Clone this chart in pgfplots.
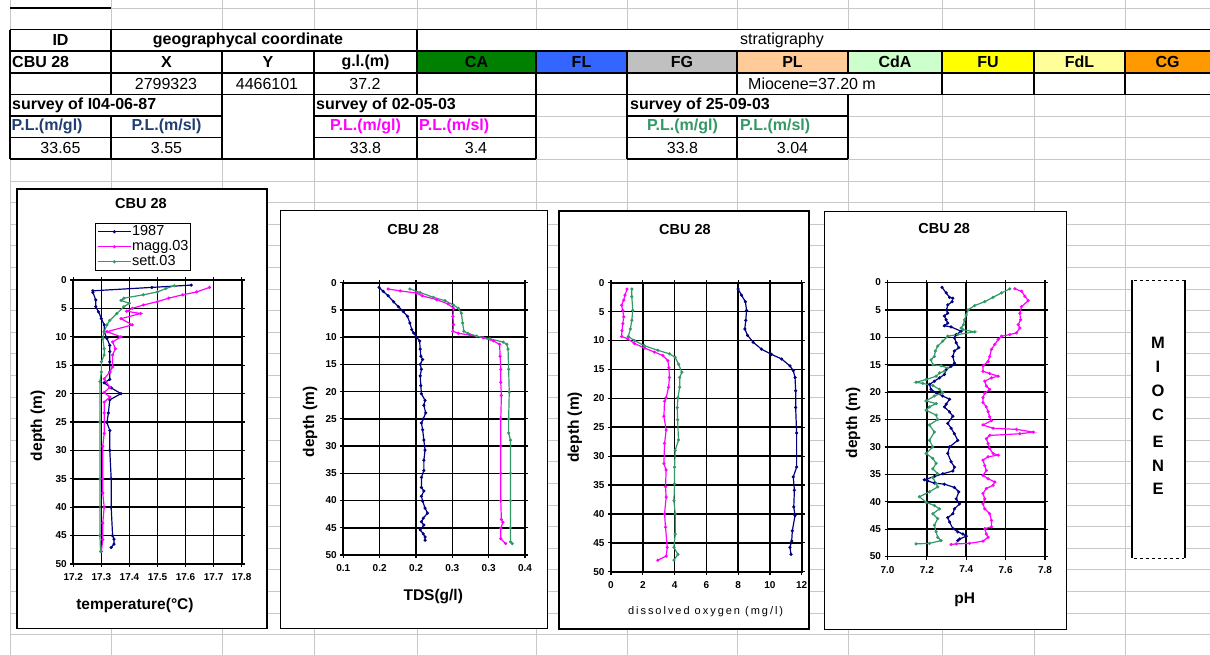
\documentclass[border=0pt]{standalone}
\usepackage{pgfplots}
\pgfplotsset{compat=1.18}
\usepackage{fontspec}
\setmainfont{Liberation Sans}
\newfontfamily\spacedfont[LetterSpace=18]{Liberation Sans}

\definecolor{gridgray}{HTML}{C8C8C8}
\definecolor{navy}{HTML}{000080}
\definecolor{mag}{HTML}{FF00FF}
\definecolor{sea}{HTML}{339966}
\definecolor{plblue}{HTML}{1F3F73}
\definecolor{cCA}{HTML}{008000}
\definecolor{cFL}{HTML}{3366FF}
\definecolor{cFG}{HTML}{C0C0C0}
\definecolor{cPL}{HTML}{FFCC99}
\definecolor{cCdA}{HTML}{CCFFCC}
\definecolor{cFU}{HTML}{FFFF00}
\definecolor{cFdL}{HTML}{FFFF99}
\definecolor{cCG}{HTML}{FF9900}

\newcommand\tf{\fontsize{16}{16}\selectfont}

\pgfplotsset{
  cbu/.style={
    scale only axis,
    y dir=reverse, ymin=0, ymax=50, ytick={0,5,...,50},
    grid=major,
    major grid style={black,line width=1.6pt},
    axis line style={black,line width=1.8pt},
    tick align=outside, major tick length=3pt,
    tick style={black,line width=1.2pt},
    /pgf/number format/assume math mode=true,
    ticklabel style={font=\fontsize{10}{10}\selectfont\bfseries},
    xticklabel style={yshift=-3pt},
    title={CBU 28},
    title style={font=\fontsize{14.5}{15}\selectfont\bfseries},
    ylabel={depth (m)},
    label style={font=\fontsize{15.5}{16}\selectfont\bfseries},
    every axis plot/.append style={line width=1.2pt, mark=*, mark size=0.9pt},
  },
}

\begin{document}
\begin{tikzpicture}
\begin{scope}[x=1pt,y=-1pt]
\path[use as bounding box] (0,0) rectangle (1210,655);
\fill[white] (0,0) rectangle (1210,655);
% sheet grid
\foreach \k in {0,...,30} {\draw[gridgray] (10,{8+21.6*\k}) -- (1210,{8+21.6*\k});}
\foreach \c in {10,111,222,314,417,536,627,737,848,942,1034,1125} {\draw[gridgray] (\c,0) -- (\c,655);}
% merged cells
\fill[white] (111,29.6) rectangle (417,51.2);
\fill[white] (417,29.6) rectangle (1210,51.2);
\fill[white] (737,72.8) rectangle (942,94.4);
\fill[white] (10,94.4) rectangle (222,116);
\fill[white] (222,94.4) rectangle (314,159.2);
\fill[white] (314,94.4) rectangle (536,116);
\fill[white] (627,94.4) rectangle (848,116);
% stratigraphy colours
\fill[cCA] (417,51.2) rectangle (536,72.8);
\fill[cFL] (536,51.2) rectangle (627,72.8);
\fill[cFG] (627,51.2) rectangle (737,72.8);
\fill[cPL] (737,51.2) rectangle (848,72.8);
\fill[cCdA] (848,51.2) rectangle (942,72.8);
\fill[cFU] (942,51.2) rectangle (1034,72.8);
\fill[cFdL] (1034,51.2) rectangle (1125,72.8);
\fill[cCG] (1125,51.2) rectangle (1210,72.8);
% borders
\begin{scope}[line width=1.5pt, black]
\draw (10,8) -- (111,8);
\draw (10,29.6) -- (1210,29.6);
\draw (10,51.2) -- (1210,51.2);
\draw (10,72.8) -- (1210,72.8);
\draw (10,94.4) -- (1210,94.4);
\draw (10,116) -- (222,116); \draw (314,116) -- (536,116); \draw (627,116) -- (848,116);
\draw (10,137.6) -- (222,137.6); \draw (314,137.6) -- (536,137.6); \draw (627,137.6) -- (848,137.6);
\draw (10,159.2) -- (536,159.2); \draw (627,159.2) -- (848,159.2);
\draw (10,29.6) -- (10,159.2);
\draw (111,29.6) -- (111,94.4); \draw (111,116) -- (111,159.2);
\draw (222,51.2) -- (222,159.2);
\draw (314,51.2) -- (314,159.2);
\draw (417,29.6) -- (417,94.4); \draw (417,116) -- (417,159.2);
\draw (536,51.2) -- (536,159.2);
\draw (627,51.2) -- (627,159.2);
\draw (737,51.2) -- (737,94.4); \draw (737,116) -- (737,159.2);
\draw (848,51.2) -- (848,72.8); \draw (848,94.4) -- (848,159.2);
\draw (942,51.2) -- (942,94.4);
\draw (1034,51.2) -- (1034,94.4);
\draw (1125,51.2) -- (1125,94.4);
\end{scope}
% table text
\begin{scope}[every node/.style={inner sep=0pt, font=\tf}]
\node[font=\tf\bfseries] at (60.5,40.4) {ID};
\node[font=\tf\bfseries] at (248,40.4) {geographycal coordinate};
\node[anchor=west] at (740,40.4) {stratigraphy};
\node[font=\tf\bfseries, anchor=west] at (12,62) {CBU 28};
\node[font=\tf\bfseries] at (166.5,62) {X};
\node[font=\tf\bfseries] at (268,62) {Y};
\node[font=\tf\bfseries] at (365.5,62) {g.l.(m)};
\node[font=\tf\bfseries] at (476.5,62) {CA};
\node[font=\tf\bfseries] at (581.5,62) {FL};
\node[font=\tf\bfseries] at (682,62) {FG};
\node[font=\tf\bfseries] at (792.5,62) {PL};
\node[font=\tf\bfseries] at (895,62) {CdA};
\node[font=\tf\bfseries] at (988,62) {FU};
\node[font=\tf\bfseries] at (1079.5,62) {FdL};
\node[font=\tf\bfseries] at (1167.5,62) {CG};
\node at (166,83.6) {2799323};
\node at (267,83.6) {4466101};
\node at (365,83.6) {37.2};
\node[anchor=west] at (748,83.6) {Miocene=37.20 m};
\node[font=\tf\bfseries, anchor=west] at (12,105.2) {survey of I04-06-87};
\node[font=\tf\bfseries, anchor=west] at (316,105.2) {survey of 02-05-03};
\node[font=\tf\bfseries, anchor=west] at (630,105.2) {survey of 25-09-03};
\node[font=\tf\bfseries, text=plblue, anchor=west] at (11.5,126.8) {P.L.(m/gl)};
\node[font=\tf\bfseries, text=plblue] at (166.5,126.8) {P.L.(m/sl)};
\node[font=\tf\bfseries, text=mag] at (365.5,126.8) {P.L.(m/gl)};
\node[font=\tf\bfseries, text=mag, anchor=west] at (419,126.8) {P.L.(m/sl)};
\node[font=\tf\bfseries, text=sea] at (682.5,126.8) {P.L.(m/gl)};
\node[font=\tf\bfseries, text=sea, anchor=west] at (740,126.8) {P.L.(m/sl)};
\node at (60.5,148.4) {33.65};
\node at (166.5,148.4) {3.55};
\node at (365.5,148.4) {33.8};
\node at (476,148.4) {3.4};
\node at (682.5,148.4) {33.8};
\node at (792.5,148.4) {3.04};
\end{scope}
% chart frames
\draw[fill=white, line width=1.2pt] (17,189) rectangle (267,628.5);
\draw[fill=white, line width=1.2pt] (280.5,210.5) rectangle (547.7,628.5);
\draw[fill=white, line width=1.2pt] (559,211) rectangle (809,629);
\draw[fill=white, line width=1.2pt] (824.5,211.5) rectangle (1066.5,629.5);
% Miocene column
\fill[white] (1132,280) rectangle (1185,558);
\draw[line width=1.5pt] (1132,280) -- (1132,558);
\draw[line width=1.5pt] (1185,280) -- (1185,558);
\draw[line width=1pt, dash pattern=on 2.5pt off 3.5pt] (1134,280) -- (1184,280);
\draw[line width=1pt, dash pattern=on 2.5pt off 3.5pt] (1134,558) -- (1184,558);
\foreach \l/\yy in {M/342.7,I/366.7,O/390.5,C/414.5,E/441.5,N/466,E/489}
  {\node[font=\fontsize{16.5}{17}\selectfont\bfseries, inner sep=0pt] at (1158,\yy) {\l};}
\end{scope}

% temperature
\begin{axis}[cbu,
  at={(73.3pt,-564pt)}, anchor=south west, width=168.4pt, height=284pt,
  xmin=17.2, xmax=17.8, xtick={17.2,17.3,17.4,17.5,17.6,17.7,17.8},
  xticklabels={17.2,17.3,17.4,17.5,17.6,17.7,17.8},
  xlabel={temperature(°C)},
  title style={at={(axis description cs:0.402,1)}, anchor=center, yshift=70pt},
  xlabel style={at={(axis description cs:0.366,0)}, anchor=center, yshift=-41pt},
  ylabel style={at={(axis description cs:-0.21,0.487)}, anchor=center},
  legend style={at={(axis description cs:0.415,1)}, anchor=south, yshift=9pt,
    draw=black, line width=1.2pt, font=\fontsize{14.5}{14.5}\selectfont,
    inner sep=1.5pt, row sep=0.8pt, cells={anchor=west},
    nodes={inner sep=0.6pt, text height=10pt, text depth=3pt}},
  legend image code/.code={\draw[mark repeat=2,mark phase=2,#1] plot coordinates {(0pt,0pt) (16.5pt,0pt) (33pt,0pt)};},
]
\addplot[navy] coordinates {(17.62,0.9) (17.48,1.3) (17.27,1.9) (17.27,2.2) (17.28,3.5) (17.28,4.7) (17.29,5.6) (17.30,6.8) (17.31,7.9) (17.31,9.1) (17.32,10.3) (17.33,11.5) (17.33,12.6) (17.33,14.4) (17.33,16.2) (17.33,17.5) (17.31,18.1) (17.335,19.0) (17.37,20.0) (17.33,21.1) (17.325,23.4) (17.32,25.1) (17.33,26.5) (17.33,30) (17.335,35) (17.335,40) (17.34,45) (17.345,45.6) (17.345,46.5) (17.335,47.1)};
\addplot[mag] coordinates {(17.685,1.3) (17.64,2.1) (17.59,2.6) (17.54,3.2) (17.50,3.8) (17.45,4.4) (17.41,5.0) (17.39,5.5) (17.44,5.9) (17.37,6.8) (17.41,7.9) (17.32,9.1) (17.37,10.0) (17.34,10.9) (17.35,12.1) (17.34,13.2) (17.34,15.3) (17.33,16.2) (17.31,17.4) (17.33,18.9) (17.31,19.8) (17.33,20.6) (17.31,21.5) (17.31,23.4) (17.31,27) (17.305,29.3) (17.305,35) (17.305,37.5) (17.31,40) (17.305,42.8) (17.305,45.7) (17.30,47.8)};
\addplot[sea] coordinates {(17.56,1.0) (17.53,1.5) (17.50,2.1) (17.45,2.6) (17.38,3.2) (17.37,3.6) (17.40,4.1) (17.38,4.7) (17.355,5.9) (17.33,7.1) (17.32,7.9) (17.31,9.1) (17.305,10.3) (17.31,12.1) (17.31,13.2) (17.30,14.4) (17.30,16.2) (17.295,17.9) (17.295,25) (17.295,35) (17.295,45) (17.297,47.8)};
\legend{1987,magg.03,sett.03}
\end{axis}

% TDS
\begin{axis}[cbu,
  at={(343.3pt,-555pt)}, anchor=south west, width=181.7pt, height=272.3pt,
  xmin=0.1, xmax=0.4, xtick={0.1,0.16,0.22,0.28,0.34,0.4},
  xticklabels={0.1,0.2,0.2,0.3,0.3,0.4},
  xlabel={TDS(g/l)},
  title style={at={(axis description cs:0.384,1)}, anchor=center, yshift=47.7pt},
  xlabel style={at={(axis description cs:0.495,0)}, anchor=center, yshift=-41.7pt},
  ylabel style={at={(axis description cs:-0.183,0.489)}, anchor=center},
]
\addplot[navy] coordinates {(0.159,0.85) (0.166,1.6) (0.174,2.4) (0.183,3.5) (0.191,4.4) (0.199,5.3) (0.206,6.2) (0.210,7.4) (0.213,8.6) (0.216,9.2) (0.221,10.0) (0.226,10.7) (0.227,12.2) (0.228,13.5) (0.231,14.1) (0.227,15.0) (0.229,15.9) (0.227,17.1) (0.228,18.9) (0.229,20.4) (0.235,21.6) (0.233,22.5) (0.236,23.9) (0.232,25.0) (0.229,25.75) (0.231,27.0) (0.233,28.9) (0.235,30.75) (0.233,32.6) (0.233,34.5) (0.229,35.75) (0.229,37.6) (0.233,38.25) (0.229,39.2) (0.231,40.1) (0.235,41.4) (0.239,42.3) (0.232,43.25) (0.229,43.9) (0.233,44.5) (0.227,45.4) (0.232,46.1) (0.235,46.7) (0.235,47.3)};
\addplot[mag] coordinates {(0.174,1.15) (0.194,1.5) (0.221,1.9) (0.230,2.4) (0.254,3.1) (0.273,3.9) (0.282,4.7) (0.281,6.2) (0.282,7.7) (0.281,8.9) (0.290,9.3) (0.309,9.6) (0.331,10.1) (0.348,10.7) (0.358,11.3) (0.359,13.5) (0.360,15.9) (0.360,18.3) (0.361,20.7) (0.360,25) (0.360,30) (0.360,35) (0.360,40) (0.361,43.5) (0.3635,44) (0.360,45.1) (0.360,47) (0.368,47.9)};
\addplot[sea] coordinates {(0.210,1.15) (0.227,1.8) (0.249,2.7) (0.268,3.3) (0.282,4.1) (0.290,4.7) (0.295,5.6) (0.297,7.4) (0.299,8.9) (0.306,9.3) (0.320,9.8) (0.342,10.3) (0.364,10.9) (0.370,11.3) (0.372,12.2) (0.373,15.9) (0.374,20.1) (0.373,25) (0.373,27.6) (0.376,28.9) (0.376,35) (0.376,40) (0.376,45) (0.376,47.6) (0.379,47.9)};
\end{axis}

% dissolved oxygen
\begin{axis}[cbu,
  at={(611pt,-571.7pt)}, anchor=south west, width=190.7pt, height=289pt,
  xmin=0, xmax=12, xtick={0,2,...,12},
  xlabel={\spacedfont\fontsize{11}{11}\selectfont\mdseries dissolved oxygen (mg/l)},
  title style={at={(axis description cs:0.388,1)}, anchor=center, yshift=47.7pt},
  xlabel style={at={(axis description cs:0.496,0)}, anchor=center, yshift=-39.5pt},
  ylabel style={at={(axis description cs:-0.189,0.5)}, anchor=center},
]
\addplot[navy] coordinates {(8.0,1.1) (8.21,2.15) (8.46,3.3) (8.53,4.8) (8.48,6.5) (8.42,8.0) (8.59,9.1) (8.95,10.3) (9.47,11.5) (10.1,12.4) (10.74,13.2) (11.26,14.4) (11.47,15.2) (11.58,16.4) (11.62,18.7) (11.62,21.6) (11.68,26) (11.68,31.9) (11.47,33.6) (11.54,35.9) (11.5,38.8) (11.58,40.3) (11.41,42.9) (11.37,44.7) (11.26,45.8) (11.33,47)};
\addplot[mag] coordinates {(1.01,1.1) (0.88,2.15) (0.80,3.0) (0.67,3.9) (0.74,4.8) (0.80,5.9) (0.74,7.1) (0.69,8.3) (0.67,9.3) (1.05,9.7) (1.47,10.5) (2.1,11.3) (2.74,12.0) (3.26,12.6) (3.58,13.5) (3.64,14.7) (3.68,16.4) (3.62,18.1) (3.47,19.9) (3.37,20.5) (3.33,23.1) (3.47,25.5) (3.37,27.8) (3.33,31.3) (3.47,32.4) (3.43,35.3) (3.47,37.1) (3.37,40) (3.43,42.3) (3.54,45.8) (3.47,47.3) (2.95,48.0)};
\addplot[sea] coordinates {(1.31,1.1) (1.31,2.4) (1.37,4.8) (1.31,6.5) (1.22,8.0) (1.09,9.3) (1.47,10.0) (2.1,10.9) (2.95,11.7) (3.68,12.3) (4.04,12.9) (4.25,14.1) (4.46,15.5) (4.32,16.4) (4.32,18.1) (4.21,19.9) (4.17,21.6) (4.19,23.7) (4.25,27.2) (4.04,29) (4.0,31.9) (4.0,34.8) (3.96,37.7) (4.04,40) (4.04,43.5) (3.96,45.8) (4.21,47) (3.96,48)};
\end{axis}

% pH
\begin{axis}[cbu,
  at={(887.5pt,-556.5pt)}, anchor=south west, width=157.5pt, height=274pt,
  xmin=7.0, xmax=7.8, xtick={7.0,7.2,7.4,7.6,7.8},
  xticklabels={7.0,7.2,7.4,7.6,7.8},
  xlabel={pH},
  title style={at={(axis description cs:0.36,1)}, anchor=center, yshift=47.7pt},
  xlabel style={at={(axis description cs:0.49,0)}, anchor=center, yshift=-43pt},
  ylabel style={at={(axis description cs:-0.219,0.488)}, anchor=center},
]
\addplot[navy] coordinates {(7.277,0.9) (7.298,1.9) (7.315,2.7) (7.332,2.85) (7.328,3.5) (7.306,4.1) (7.300,5.0) (7.306,5.6) (7.289,6.1) (7.298,6.8) (7.306,7.4) (7.289,7.9) (7.323,8.1) (7.374,8.9) (7.349,9.5) (7.340,10.1) (7.349,11.0) (7.362,11.9) (7.340,12.5) (7.332,13.5) (7.340,14.7) (7.323,15.3) (7.298,15.9) (7.289,16.8) (7.264,17.4) (7.238,18.0) (7.213,18.6) (7.221,19.5) (7.247,20.1) (7.280,20.7) (7.315,21.3) (7.298,22.2) (7.289,22.7) (7.315,23.6) (7.332,24.4) (7.306,25.7) (7.323,26.6) (7.340,27.6) (7.357,28.8) (7.315,30.0) (7.306,31.2) (7.323,32.7) (7.340,33.7) (7.332,34.4) (7.281,34.9) (7.238,35.4) (7.187,36.0) (7.204,36.2) (7.238,36.6) (7.289,36.8) (7.340,37.4) (7.362,38.2) (7.349,39.5) (7.366,40.4) (7.340,41.3) (7.332,42.2) (7.306,42.9) (7.315,43.7) (7.332,44.9) (7.357,45.5) (7.383,45.9) (7.400,46.3) (7.366,46.8) (7.357,47.1)};
\addplot[mag] coordinates {(7.647,1.15) (7.681,1.6) (7.698,2.5) (7.715,3.3) (7.681,4.4) (7.672,5.6) (7.676,6.8) (7.664,7.7) (7.672,8.3) (7.655,9.2) (7.621,9.5) (7.579,9.8) (7.562,10.4) (7.545,11.3) (7.528,12.2) (7.519,13.5) (7.511,14.4) (7.485,15.2) (7.485,16.2) (7.519,16.6) (7.562,17.1) (7.528,17.4) (7.494,18.0) (7.502,18.9) (7.519,19.5) (7.494,20.2) (7.485,21.0) (7.485,21.9) (7.502,22.7) (7.511,23.6) (7.519,24.5) (7.528,25.2) (7.485,26.0) (7.536,26.6) (7.655,26.8) (7.740,27.3) (7.672,27.6) (7.519,27.9) (7.502,28.5) (7.511,29.4) (7.519,30.3) (7.536,31.2) (7.562,31.5) (7.511,31.8) (7.485,32.4) (7.494,33.4) (7.502,34.3) (7.485,35.2) (7.511,35.8) (7.545,36.4) (7.536,37.0) (7.502,37.6) (7.485,38.5) (7.494,39.5) (7.485,40.4) (7.494,41.3) (7.519,42.2) (7.528,43.4) (7.528,44.6) (7.494,44.9) (7.502,45.9) (7.511,46.5) (7.485,47.2) (7.417,47.6) (7.349,47.7) (7.323,47.8)};
\addplot[sea] coordinates {(7.621,1.15) (7.579,1.9) (7.536,2.7) (7.494,3.5) (7.443,4.2) (7.409,5.0) (7.400,5.9) (7.391,6.8) (7.386,7.7) (7.374,8.3) (7.383,8.6) (7.443,9.0) (7.357,9.5) (7.306,9.8) (7.281,10.7) (7.255,11.6) (7.243,12.5) (7.238,13.5) (7.221,14.1) (7.230,15.0) (7.272,15.2) (7.306,15.6) (7.289,16.2) (7.264,16.5) (7.247,17.1) (7.196,17.7) (7.145,18.2) (7.179,18.4) (7.230,18.8) (7.264,19.5) (7.281,20.1) (7.238,20.7) (7.196,21.6) (7.247,22.1) (7.213,22.7) (7.196,23.3) (7.247,24.2) (7.255,25.0) (7.213,26.0) (7.238,27.3) (7.213,28.8) (7.230,30.0) (7.196,31.2) (7.230,32.1) (7.247,33.0) (7.230,34.0) (7.255,34.9) (7.230,35.6) (7.247,36.7) (7.255,37.3) (7.213,38.2) (7.162,39.1) (7.196,40.1) (7.238,40.7) (7.264,41.3) (7.230,42.2) (7.255,43.1) (7.238,44.3) (7.247,45.5) (7.255,46.5) (7.272,47.1) (7.213,47.6) (7.145,47.7)};
\end{axis}
\end{tikzpicture}
\end{document}
